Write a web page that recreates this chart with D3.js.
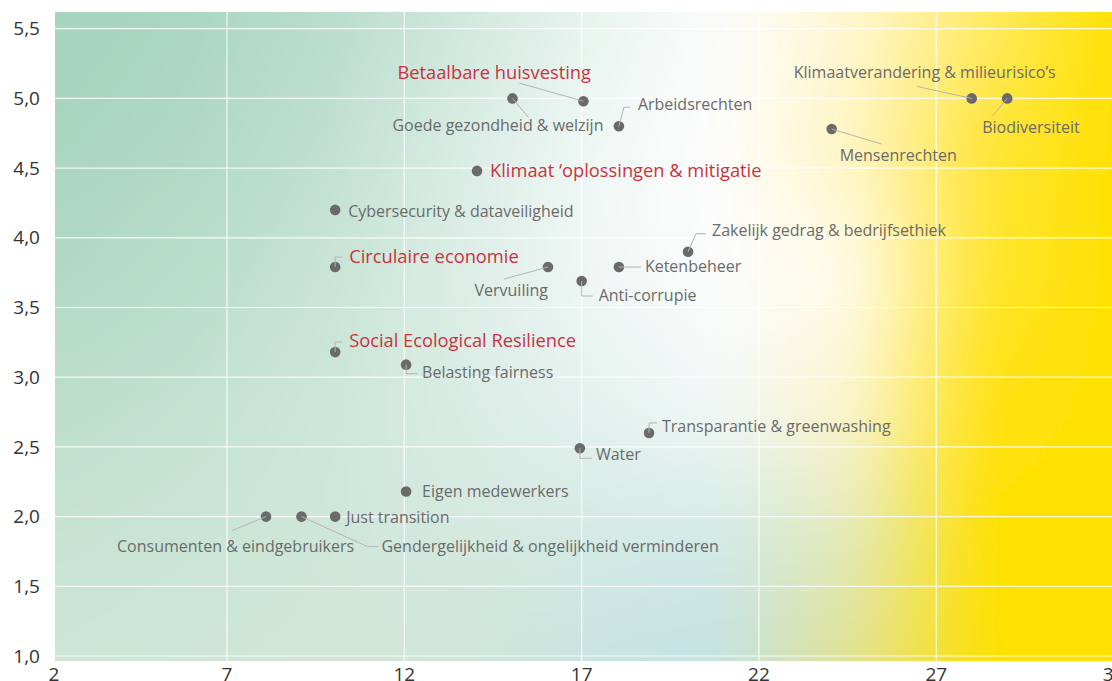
<!DOCTYPE html>
<html><head><meta charset="utf-8">
<script src="https://cdn.jsdelivr.net/npm/d3@7"></script>
<style>body{margin:0;background:#fff;} svg{display:block;}</style>
</head><body>
<svg id="chart" width="1112" height="681"></svg>
<script>
// ---------- data ----------
const categories = [
  "Betaalbare huisvesting",
  "Goede gezondheid & welzijn",
  "Arbeidsrechten",
  "Klimaat \u2018oplossingen & mitigatie",
  "Cybersecurity & dataveiligheid",
  "Circulaire economie",
  "Vervuiling",
  "Anti-corrupie",
  "Ketenbeheer",
  "Zakelijk gedrag & bedrijfsethiek",
  "Social Ecological Resilience",
  "Belasting fairness",
  "Transparantie & greenwashing",
  "Water",
  "Eigen medewerkers",
  "Just transition",
  "Consumenten & eindgebruikers",
  "Gendergelijkheid & ongelijkheid verminderen",
  "Klimaatverandering & milieurisico\u2019s",
  "Biodiversiteit",
  "Mensenrechten"
];
const xValues = [17.05, 15.05, 18.05, 14.05, 10.05, 10.05, 16.05, 17.0, 18.05, 20.0, 10.05, 12.05, 18.9, 16.95, 12.05, 10.05, 8.1, 9.1, 28.0, 29.0, 24.05];
const yValues = [4.98, 5.0, 4.80, 4.48, 4.20, 3.79, 3.79, 3.69, 3.79, 3.90, 3.18, 3.09, 2.60, 2.49, 2.18, 2.0, 2.0, 2.0, 5.0, 5.0, 4.78];
const highlighted = [true, false, false, true, false, true, false, false, false, false, true, false, false, false, false, false, false, false, false, false, false];

const xTicks = [2, 7, 12, 17, 22, 27, 32];
const xTickLabels = ["2", "7", "12", "17", "22", "27", "32"];
const yTicks = [1.0, 1.5, 2.0, 2.5, 3.0, 3.5, 4.0, 4.5, 5.0, 5.5];
const yTickLabels = ["1,0", "1,5", "2,0", "2,5", "3,0", "3,5", "4,0", "4,5", "5,0", "5,5"];

// ---------- layout (label offsets relative to the point, in px) ----------
const labelLayout = [
  {dx: -186, dy: -22, path: [[0,0],[-64,-18]]},
  {dx: -120, dy: 33, path: [[0,0],[16,19]]},
  {dx: 19, dy: -16, path: [[0,0],[5,-19],[11,-19]]},
  {dx: 13, dy: 6, path: null},
  {dx: 13, dy: 7, path: null},
  {dx: 14, dy: -4, path: [[0,0],[0,-10],[7,-10]]},
  {dx: 0, dy: 29, anchor: "end", path: [[0,0],[-44,12]]},
  {dx: 17, dy: 20, path: [[0,0],[0,15],[11,15]]},
  {dx: 26, dy: 5, path: [[0,0],[22,0]]},
  {dx: 24, dy: -16, path: [[0,0],[8,-18],[18,-18]]},
  {dx: 14, dy: -5, path: [[0,0],[0,-10],[7,-10]]},
  {dx: 16, dy: 13, path: [[0,0],[0,9],[11,9]]},
  {dx: 13, dy: -1, path: [[0,0],[0,-10],[8,-10]]},
  {dx: 16, dy: 12, path: [[0,0],[0,10],[12,10]]},
  {dx: 16, dy: 5, path: null},
  {dx: 11, dy: 6.5, path: null},
  {dx: -149, dy: 35, path: [[0,0],[-34,14]]},
  {dx: 80, dy: 35, path: [[0,0],[66,30],[77,30]]},
  {dx: -178, dy: -20, fit: 262, path: [[0,0],[-55,-12]]},
  {dx: -25, dy: 35, path: [[0,0],[-15,18]]},
  {dx: 8, dy: 32, path: [[0,0],[50,15]]}
];

// background colour grid (decorative)
const bgRows = [
  ["#a6d4bf","#acd7c2","#b9ddcb","#cfe7dc","#e8f4ef","#fbfdfc","#fff7d2","#ffeb66","#ffe100"],
  ["#aad6c1","#b1d9c5","#c0e0d0","#d8ece4","#f0f8f5","#fefefe","#fff5c0","#ffe53a","#ffe100"],
  ["#b2d9c6","#badecb","#c8e4d6","#dcede6","#f0f7f5","#fcfdfd","#fffbe8","#ffe530","#ffe100"],
  ["#bedfcc","#c4e2d1","#cde6d9","#d9ece4","#e5f2ef","#f2f8f7","#fcf5cc","#ffe214","#ffe100"],
  ["#c7e3d3","#cae5d6","#cfe7da","#d4e9df","#d5eae4","#d2eae6","#e4e9b8","#ffe100","#ffe100"],
  ["#cce6d7","#cfe6d8","#d2e6d5","#d0e6d9","#c8e4e0","#c2e2e2","#e1e190","#fde100","#ffe100"]
];

// ---------- drawing ----------
const svg = d3.select("#chart");
const plot = {left: 55, top: 12, right: 1112, bottom: 661};

const x = d3.scaleLinear().domain([2, 32]).range([49.7, 1113.6]);
const y = d3.scaleLinear().domain([1, 5.5]).range([656, 28.7]);

const defs = svg.append("defs");
defs.append("clipPath").attr("id", "plotClip")
  .append("rect").attr("x", plot.left).attr("y", plot.top)
  .attr("width", plot.right - plot.left).attr("height", plot.bottom - plot.top);
const blur = defs.append("filter").attr("id", "soft")
  .attr("x", "-10%").attr("y", "-10%").attr("width", "120%").attr("height", "120%");
blur.append("feGaussianBlur").attr("stdDeviation", 22);

// small padded canvas for background
const nC = bgRows[0].length, nR = bgRows.length;
const pc = document.createElement("canvas");
pc.width = nC + 2; pc.height = nR + 2;
const p = pc.getContext("2d");
for (let j = -1; j <= nR; j++) for (let i = -1; i <= nC; i++) {
  const jj = Math.max(0, Math.min(nR - 1, j)), ii = Math.max(0, Math.min(nC - 1, i));
  p.fillStyle = bgRows[jj][ii]; p.fillRect(i + 1, j + 1, 1, 1);
}
const stepX = (plot.right - plot.left) / (nC - 1);
const stepY = (plot.bottom - plot.top) / (nR - 1);

const bgG = svg.append("g").attr("clip-path", "url(#plotClip)");
bgG.append("rect").attr("x", plot.left).attr("y", plot.top)
  .attr("width", plot.right - plot.left).attr("height", plot.bottom - plot.top)
  .attr("fill", "#d0e8dc");
bgG.append("image")
  .attr("href", pc.toDataURL())
  .attr("x", plot.left - stepX / 2 - stepX).attr("y", plot.top - stepY / 2 - stepY)
  .attr("width", (nC + 2) * stepX).attr("height", (nR + 2) * stepY)
  .attr("preserveAspectRatio", "none")
  .attr("filter", "url(#soft)");

// gridlines
const grid = svg.append("g").attr("clip-path", "url(#plotClip)");
grid.selectAll("line.v").data(xTicks.filter(t => x(t) > plot.left + 2 && x(t) < plot.right)).enter()
  .append("line").attr("class", "v")
  .attr("x1", d => x(d)).attr("x2", d => x(d))
  .attr("y1", plot.top).attr("y2", plot.bottom)
  .attr("stroke", "#ffffff").attr("stroke-opacity", 0.85).attr("stroke-width", 1.2);
grid.selectAll("line.h").data(yTicks).enter()
  .append("line").attr("class", "h")
  .attr("x1", plot.left).attr("x2", plot.right)
  .attr("y1", d => y(d)).attr("y2", d => y(d))
  .attr("stroke", "#ffffff").attr("stroke-opacity", 0.85).attr("stroke-width", 1.2);

// axis labels
const tickFont = "'Open Sans', 'Noto Sans', sans-serif";
svg.append("g").selectAll("text").data(yTicks).enter().append("text")
  .attr("x", 40).attr("y", d => y(d)).attr("dy", "0.35em")
  .attr("text-anchor", "end")
  .attr("font-family", tickFont).attr("font-size", 19).attr("fill", "#333")
  .text((d, i) => yTickLabels[i]);
svg.append("g").selectAll("text").data(xTicks).enter().append("text")
  .attr("x", d => Math.max(54, x(d))).attr("y", 681)
  .attr("text-anchor", "middle")
  .attr("font-family", tickFont).attr("font-size", 19).attr("fill", "#333")
  .text((d, i) => xTickLabels[i]);

// points
const pts = categories.map((c, i) => ({
  name: c, px: x(xValues[i]), py: y(yValues[i]), hi: highlighted[i], lay: labelLayout[i]
}));

const g = svg.append("g");
g.selectAll("circle").data(pts).enter().append("circle")
  .attr("cx", d => d.px).attr("cy", d => d.py).attr("r", 5.3)
  .attr("fill", "#6a6a6a");

const line = d3.line();
g.selectAll("path.conn").data(pts.filter(d => d.lay.path)).enter().append("path")
  .attr("class", "conn")
  .attr("d", d => line(d.lay.path.map(q => [d.px + q[0], d.py + q[1]])))
  .attr("fill", "none").attr("stroke", "#b4b4b4").attr("stroke-width", 1);

const labels = g.selectAll("text.lbl").data(pts).enter().append("text")
  .attr("class", "lbl")
  .attr("x", d => d.px + d.lay.dx).attr("y", d => d.py + d.lay.dy)
  .attr("text-anchor", d => d.lay.anchor || "start")
  .attr("font-family", "'Open Sans', 'Noto Sans', sans-serif")
  .attr("font-size", d => d.hi ? 18.3 : 16)
  .attr("font-weight", d => d.hi ? 400 : 500)
  .attr("fill", d => d.hi ? "#c9333f" : "#6b6b6b")
  .text(d => d.name);
labels.filter(d => d.lay.fit)
  .attr("textLength", d => d.lay.fit)
  .attr("lengthAdjust", "spacingAndGlyphs");
</script>
</body></html>
